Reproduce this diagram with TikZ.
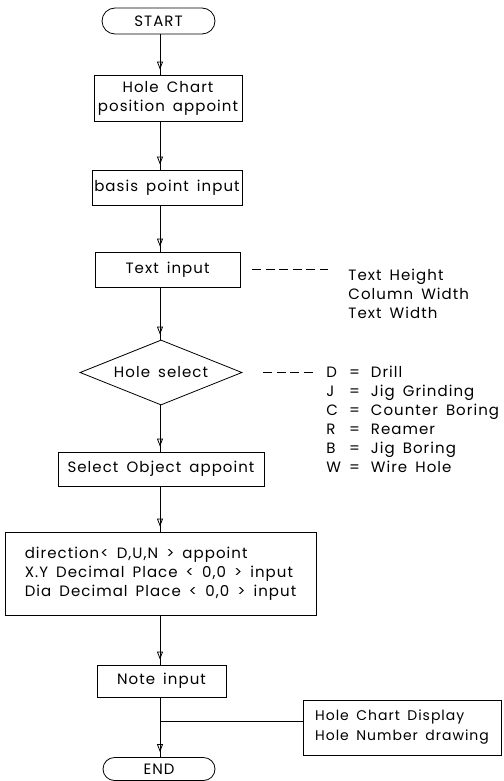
\documentclass[tikz,border=0pt]{standalone}
\usepackage{fontspec}
\setmainfont{Poppins}[LetterSpace=7,WordSpace=1.6]
\usetikzlibrary{shapes.geometric,shapes.misc,arrows.meta,decorations.markings}

\tikzset{
	box/.style={draw, rectangle, inner sep=0pt, align=center},
	term/.style={draw, rounded rectangle, inner sep=0pt, minimum width=113pt, minimum height=26pt},
	decision/.style={draw, diamond, aspect=2.5, inner sep=0pt, minimum width=162pt, minimum height=65pt},
	flow/.style={postaction={decorate}, decoration={markings,
		mark=at position -5pt with {\arrow{Triangle[open,length=8pt,width=6pt]}}}},
	dashline/.style={dash pattern=on 9pt off 4.5pt},
}

\begin{document}
\begin{tikzpicture}[x=1pt, y=-1pt, line width=0.8pt, font=\fontsize{15}{19}\selectfont]
			\useasboundingbox (0,0) rectangle (503,781);
			\coordinate (axis) at (160,0);

			\node[term] (start) at (158.5,21) {START};
			\node[box, minimum width=148pt, minimum height=46pt] (hcp) at (168,98) {Hole Chart\\position appoint};
			\node[box, minimum width=150pt, minimum height=35pt] (bpi) at (167,187.5) {basis point input};
			\node[box, minimum width=145pt, minimum height=35pt] (tin) at (167.5,269.5) {Text input};
			\node[decision] (hs) at (161,372.5) {Hole select};
			\node[box, minimum width=206pt, minimum height=34pt] (sel) at (161,469) {Select Object appoint};
			\node[box, minimum width=311pt, minimum height=83pt, align=left] (dir) at (160.5,573.5)
				{direction< D,U,N > appoint\\X.Y Decimal Place < 0,0 > input\\Dia Decimal Place < 0,0 > input};
			\node[box, minimum width=129pt, minimum height=32pt] (ni) at (161.5,681) {Note input};
			\node[term, minimum width=112pt, minimum height=23pt] (end) at (159,769) {END};
			\node[box, minimum width=198pt, minimum height=55pt, align=left, font=\fontsize{14}{20}\selectfont] (hcd) at (402,727.5)
				{Hole Chart Display\\Hole Number drawing};

			\node[anchor=north west, align=left, inner sep=0pt] (tparm) at (348,269) {Text Height\\Column Width\\Text Width};
			\node[anchor=north west, inner sep=0pt] (codes) at (326,364) {%
				\begin{tabular}{@{}l@{\hspace{8pt}}c@{\hspace{11pt}}l@{}}
				D & = & Drill\\
				J & = & Jig Grinding\\
				C & = & Counter Boring\\
				R & = & Reamer\\
				B & = & Jig Boring\\
				W & = & Wire Hole
				\end{tabular}};

			\draw[flow] (start.south -| axis) -- (hcp.north -| axis);
			\draw[flow] (hcp.south -| axis) -- (bpi.north -| axis);
			\draw[flow] (bpi.south -| axis) -- (tin.north -| axis);
			\draw[flow] (tin.south -| axis) -- (hs.north -| axis);
			\draw[flow] (hs.south -| axis) -- (sel.north -| axis);
			\draw[flow] (sel.south -| axis) -- (dir.north -| axis);
			\draw[flow] (dir.south -| axis) -- (ni.north -| axis);
			\draw[flow] (ni.south -| axis) -- (end.north -| axis);

			\coordinate (jn) at (160,721);
			\draw (jn) -- (jn -| hcd.west);

			\draw[dashline] ([xshift=12pt]tin.east) -- ([xshift=-20pt]tin.east -| tparm.west);
			\draw[dashline] ([xshift=21pt]hs.east) -- ([xshift=-13pt]hs.east -| codes.west);
		\end{tikzpicture}
\end{document}
